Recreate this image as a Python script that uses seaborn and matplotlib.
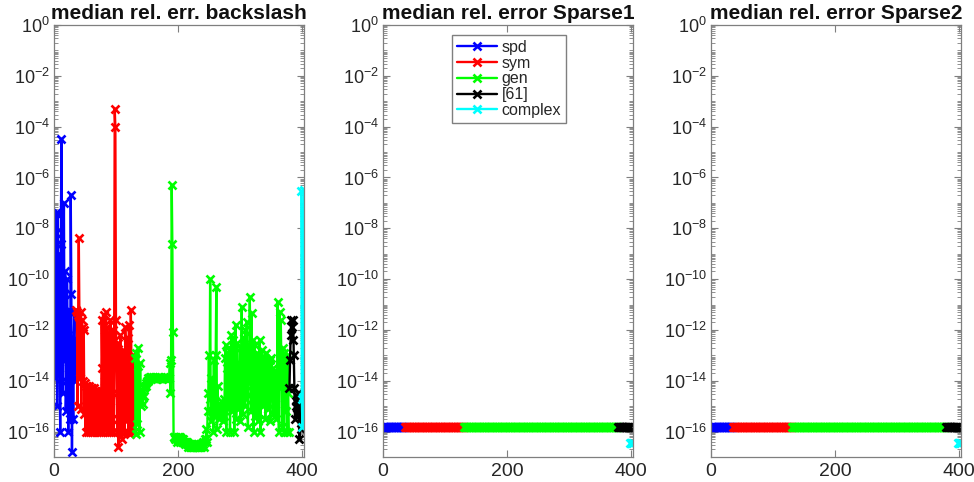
import numpy as np
import pandas as pd
import matplotlib
matplotlib.use('Agg')
import matplotlib.pyplot as plt
import seaborn as sns
from matplotlib.ticker import FixedLocator, LogLocator, NullFormatter, LogFormatterSciNotation

# Matrix classes, in plotting order, and their MATLAB-like colours
groups = ['spd', 'sym', 'gen', '[61]', 'complex']
colors = ['#0000ff', '#ff0000', '#00ff00', '#000000', '#00ffff']

# log10 of median relative error for backslash
spd_log = [-11.0, -13.9, -8.2, -7.4, -15.0, -7.4, -12.3, -9.0, -13.0, -16.0,
           -8.6, -4.5, -12.0, -14.5, -10.5, -7.0, -13.2, -9.7, -15.2, -14.0,
           -10.0, -12.2, -16.0, -11.2, -13.5, -15.5, -6.7, -10.6, -16.8, -12.8,
           -15.5, -12.35, -11.3, -14.0, -12.4]
sym_log = [-11.2, -11.3, -15.0, -11.4, -8.4, -11.5, -13.9, -11.3, -15.1, -11.6,
           -11.9, -14.0, -12.0, -15.3,
           -14.1, -16.0, -14.2, -15.2, -14.2, -16.0, -14.3, -14.2, -16.0, -14.3,
           -15.4, -14.3, -16.0, -14.4, -14.3, -16.0, -14.4, -15.0, -14.4, -16.0,
           -14.5, -14.4, -16.0, -14.5, -15.8, -14.5,
           -16.0, -11.6, -13.5, -16.0, -11.4, -15.8, -12.0, -14.0, -11.3, -16.0,
           -11.9, -13.2, -16.0, -12.4, -14.8, -11.6, -16.0, -13.0, -15.5, -12.0,
           -16.0, -13.3, -3.3, -4.0,
           -11.6, -14.5, -16.0, -12.5, -16.6, -13.3, -15.5, -12.2, -16.0, -13.8,
           -16.3, -12.8, -15.0, -13.0, -16.0, -11.9, -14.0, -15.6, -13.1, -12.3,
           -16.0, -11.8, -14.6, -16.1, -11.2, -13.4, -15.9, -13.0, -14.2, -16.0,
           -13.5]
gen_log = [-13.1, -16.1, -12.9, -15.7, -13.4, -12.7, -14.5, -16.0, -13.3, -14.8,
           -15.0, -14.6, -14.9, -14.4, -14.6,
           -14.3, -14.2, -14.1, -14.2, -14.0, -14.0, -13.9, -13.95, -13.9, -13.85,
           -13.9, -13.85, -13.9, -13.9, -13.85, -13.9, -13.9, -13.85, -13.9, -13.9,
           -13.9, -13.95, -13.9, -13.9, -13.85, -13.9, -13.9, -13.9, -13.95, -13.9,
           -13.9, -13.85, -13.9, -13.9, -13.9, -13.9, -13.85, -13.9, -13.9, -13.9,
           -13.9,
           -13.3, -14.5, -13.2, -6.3, -8.6, -12.1,
           -16.2, -16.2, -16.3, -16.2, -16.2, -16.4, -16.3, -16.2, -16.2, -16.3,
           -16.4, -16.2, -16.3, -16.3, -16.4, -16.3, -16.4, -16.4, -16.5, -16.4,
           -16.4, -16.5, -16.4, -16.5, -16.6, -16.5, -16.6, -16.5, -16.6, -16.6,
           -16.5, -16.6, -16.6, -16.5, -16.5, -16.6, -16.6, -16.5, -16.6, -16.6,
           -16.5, -16.6, -16.5, -16.6, -16.6, -16.5, -16.5, -16.4, -16.5, -16.6,
           -16.3, -16.4, -16.3, -15.9, -16.4, -15.2, -14.5, -13.0,
           -14.7, -10.0, -15.6, -13.9, -15.2, -14.3, -16.0, -13.2, -15.4, -14.8,
           -13.0, -10.3, -15.9, -14.2, -15.3, -14.9, -15.5, -15.0, -15.3, -14.8,
           -15.2, -15.0, -15.6, -14.7, -15.4, -13.1, -12.6, -16.0, -13.5, -12.9,
           -15.1, -13.8, -12.8, -16.0, -14.3, -12.2, -12.8, -15.2, -12.4, -14.6,
           -16.0, -13.4, -11.8, -15.5, -12.5, -14.0, -15.1, -13.3, -14.8, -12.7,
           -15.6, -13.9, -11.1, -14.5, -15.3, -12.3, -13.6, -15.0, -12.0, -14.7,
           -11.7, -13.2, -15.8, -12.6, -14.1, -10.7, -13.0, -15.2, -11.35, -14.4,
           -12.4, -16.0, -13.7, -12.6, -15.4, -13.0, -14.2, -12.9, -15.6, -13.5,
           -14.6, -12.4, -16.0, -13.3, -14.0, -12.8, -15.0, -13.6, -14.8, -13.1,
           -15.5, -12.9, -14.4, -13.4, -15.1, -13.8, -14.5, -13.2, -15.6, -14.0,
           -13.1, -14.7, -13.5, -15.3, -14.2, -13.6, -14.9, -13.9, -15.5, -14.1,
           -10.9, -13.8, -16.0, -11.3, -14.3, -11.6, -13.4, -15.8, -12.7, -14.0,
           -16.0, -12.9, -13.6, -15.2, -14.3, -16.0, -13.0, -14.5, -16.0]
ref61_log = [-14.3, -13.2, -12.2, -11.6, -11.9, -12.4, -11.6, -13.0, -14.3, -15.5,
             -14.8, -15.0, -15.3, -14.6, -14.5, -15.2, -16.3, -14.8, -15.9]
complex_log = [-6.55, -14.7, -15.8, -14.65, -6.5]

# Sparse1 / Sparse2: flat level for each class
sparse1_level = [1.45e-16, 1.45e-16, 1.45e-16, 1.45e-16, 3.5e-17]
sparse2_level = [1.45e-16, 1.45e-16, 1.45e-16, 1.45e-16, 3.5e-17]

titles = ['median rel. err. backslash', 'median rel. error Sparse1',
          'median rel. error Sparse2']

# Build long tables
rows_bs, rows_s1, rows_s2 = [], [], []
start = 1
for g, vals, l1, l2 in zip(groups, [spd_log, sym_log, gen_log, ref61_log, complex_log],
                           sparse1_level, sparse2_level):
    for i, v in enumerate(vals):
        rows_bs.append((start + i, 10.0 ** v, g))
        rows_s1.append((start + i, l1, g))
        rows_s2.append((start + i, l2, g))
    start += len(vals)
cols = ['idx', 'err', 'type']
tables = [pd.DataFrame(r, columns=cols) for r in (rows_bs, rows_s1, rows_s2)]

sns.set_theme(style='ticks')
plt.rcParams['font.family'] = ['Liberation Sans', 'DejaVu Sans']

fig = plt.figure(figsize=(9.74, 4.82), dpi=100)
lefts = [54, 383, 711]
axes = [fig.add_axes([l / 974, 1 - 457 / 482, 250 / 974, 432 / 482]) for l in lefts]

for k, (ax, df) in enumerate(zip(axes, tables)):
    ax.set_yscale('log')
    for g, c in zip(groups, colors):
        sub = df[df['type'] == g]
        sns.lineplot(data=sub, x='idx', y='err', ax=ax, color=c, marker='x',
                     markersize=6, markeredgewidth=1.9, markeredgecolor=c,
                     linewidth=1.7, estimator=None, label=g)
    ax.set_xlim(0, 403.5)
    ax.set_ylim(1e-17, 1e0)
    ax.set_xticks([0, 200, 400])
    ax.yaxis.set_major_locator(FixedLocator([10.0 ** e for e in range(-16, 1, 2)]))
    ax.yaxis.set_major_formatter(LogFormatterSciNotation())
    ax.yaxis.set_minor_locator(LogLocator(base=10, subs=np.arange(1, 10), numticks=100))
    ax.yaxis.set_minor_formatter(NullFormatter())
    ax.tick_params(which='both', direction='in', top=True, right=True,
                   color='#7f7f7f', labelcolor='#262626')
    ax.tick_params(which='major', length=5, width=0.8)
    ax.tick_params(which='minor', length=3, width=0.6)
    ax.tick_params(axis='x', labelsize=14, pad=4)
    ax.tick_params(axis='y', labelsize=13, pad=3)
    for s in ax.spines.values():
        s.set_color('#7f7f7f')
        s.set_linewidth(0.9)
    ax.set_xlabel('')
    ax.set_ylabel('')
    ax.set_title(titles[k], fontsize=15, fontweight='bold', color='#111111', pad=4)
    if k == 1:
        ax.legend(loc='upper left', bbox_to_anchor=(0.276, 0.977), borderaxespad=0,
                  fontsize=11.5, labelspacing=0.05, handlelength=2.5,
                  handletextpad=0.3, borderpad=0.3, fancybox=False,
                  edgecolor='#7f7f7f', framealpha=1, numpoints=1)
    else:
        leg = ax.get_legend()
        if leg is not None:
            leg.remove()

fig.savefig('out.png', dpi=100)
